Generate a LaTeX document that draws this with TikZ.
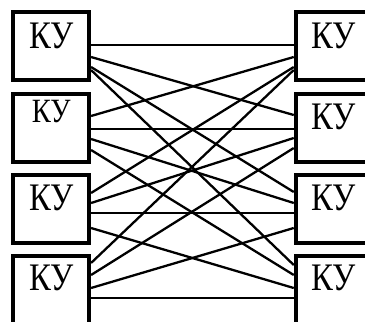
\documentclass[tikz,border=0pt]{standalone}
\usepackage{fontspec}
\setmainfont{Liberation Serif}
\usepackage{graphicx}
\newcommand{\narrow}[1]{\scalebox{0.84}[1]{#1}}

\begin{document}
\begin{tikzpicture}[x=1pt,y=-1pt,ku/.style={rectangle,draw,line width=4pt,fill=white,minimum width=75.7pt,minimum height=68.5pt,inner sep=0pt},link/.style={line width=2.3pt},kutext/.style={inner sep=0pt,font=\fontsize{39}{39}\selectfont}]
\useasboundingbox (0,0) rectangle (365,322);
\node[ku] (l1) at (51.2,46.2) {};
\node[ku] (l2) at (51.2,128.2) {};
\node[ku] (l3) at (51.2,209.2) {};
\node[ku] (l4) at (51.2,290.2) {};
\node[ku] (r1) at (333.6,46.2) {};
\node[ku] (r2) at (333.6,128.2) {};
\node[ku] (r3) at (333.6,209.2) {};
\node[ku] (r4) at (333.6,290.2) {};
% every left unit goes to every right unit
\draw[link] (l1.east |- 0,45) -- (r1.west |- 0,45);
\draw[link] (l1.east |- 0,57) -- (r2.west |- 0,115);
\draw[link] (l1.east |- 0,67) -- (r3.west |- 0,192);
\draw[link] (l1.east |- 0,70) -- (r4.west |- 0,265);
\draw[link] (l2.east |- 0,116) -- (r1.west |- 0,57);
\draw[link] (l2.east |- 0,129) -- (r2.west |- 0,129);
\draw[link] (l2.east |- 0,139) -- (r3.west |- 0,203);
\draw[link] (l2.east |- 0,150) -- (r4.west |- 0,275);
\draw[link] (l3.east |- 0,193) -- (r1.west |- 0,67);
\draw[link] (l3.east |- 0,203) -- (r2.west |- 0,138);
\draw[link] (l3.east |- 0,213) -- (r3.west |- 0,213);
\draw[link] (l3.east |- 0,228) -- (r4.west |- 0,288);
\draw[link] (l4.east |- 0,263) -- (r1.west |- 0,70);
\draw[link] (l4.east |- 0,275) -- (r2.west |- 0,148);
\draw[link] (l4.east |- 0,288) -- (r3.west |- 0,228);
\draw[link] (l4.east |- 0,298) -- (r4.west |- 0,298);
% boxes on top of the wire ends
\node[ku] at (l1) {};
\node[ku] at (l2) {};
\node[ku] at (l3) {};
\node[ku] at (l4) {};
\node[ku] at (r1) {};
\node[ku] at (r2) {};
\node[ku] at (r3) {};
\node[ku] at (r4) {};
\node[kutext] (l1t) at ([yshift=-26pt]l1.north) {\narrow{КУ}};
\node[kutext,font=\fontsize{34}{34}\selectfont] (l2t) at ([yshift=-20pt]l2.north) {\narrow{КУ}};
\node[kutext] (l3t) at ([yshift=-25pt]l3.north) {\narrow{КУ}};
\node[kutext] (l4t) at ([yshift=-24pt]l4.north) {\narrow{КУ}};
\node[kutext] (r1t) at ([yshift=-26pt]r1.north) {\narrow{КУ}};
\node[kutext] (r2t) at ([yshift=-25pt]r2.north) {\narrow{КУ}};
\node[kutext] (r3t) at ([yshift=-25pt]r3.north) {\narrow{КУ}};
\node[kutext] (r4t) at ([yshift=-24pt]r4.north) {\narrow{КУ}};
\end{tikzpicture}
\end{document}
